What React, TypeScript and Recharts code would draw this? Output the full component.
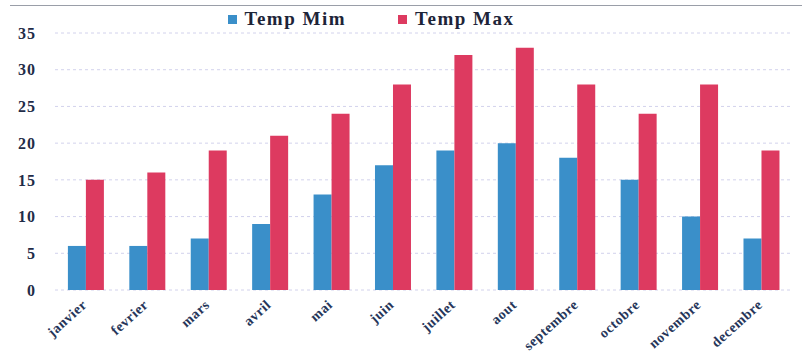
import { BarChart, Bar, XAxis, YAxis, CartesianGrid, Legend } from "recharts";

const months = [
  "janvier",
  "fevrier",
  "mars",
  "avril",
  "mai",
  "juin",
  "juillet",
  "aout",
  "septembre",
  "octobre",
  "novembre",
  "decembre",
];
const tempMin = [6, 6, 7, 9, 13, 17, 19, 20, 18, 15, 10, 7];
const tempMax = [15, 16, 19, 21, 24, 28, 32, 33, 28, 24, 28, 19];
const yTicks = [0, 5, 10, 15, 20, 25, 30, 35];

const data = months.map((m, i) => ({ month: m, min: tempMin[i], max: tempMax[i] }));

const serif = "'Liberation Serif', 'DejaVu Serif', serif";

function MonthTick({ x, y, payload }: any) {
  const tx = x + 2;
  const ty = y + 8;
  return (
    <text
      x={tx}
      y={ty}
      transform={`rotate(-42, ${tx}, ${ty})`}
      textAnchor="end"
      fill="#26365a"
      fontFamily={serif}
      fontWeight="bold"
      fontSize={14}
      letterSpacing={0.6}
    >
      {payload.value}
    </text>
  );
}

function TopLegend() {
  const item = (color: string, label: string) => (
    <span style={{ display: "inline-flex", alignItems: "center", margin: "0 26px" }}>
      <span style={{ width: 9, height: 9, background: color, marginRight: 8, display: "inline-block" }} />
      <span style={{ fontFamily: serif, fontWeight: "bold", fontSize: 19, letterSpacing: 1.5, color: "#1d2438" }}>
        {label}
      </span>
    </span>
  );
  return (
    <div style={{ height: 22, display: "flex", justifyContent: "center", alignItems: "center", paddingRight: 50 }}>
      {item("#3a8fc9", "Temp Mim")}
      {item("#dd3a60", "Temp Max")}
    </div>
  );
}

export default function App() {
  return (
    <div style={{ position: "absolute", left: 0, top: 0, width: 802, height: 358, background: "#fff" }}>
      <div style={{ position: "absolute", left: 10, right: 0, top: 5, borderTop: "1px solid #9a9ea8" }} />
      <BarChart
        width={802}
        height={358}
        data={data}
        margin={{ top: 11, right: 10, left: 0, bottom: 0 }}
        barCategoryGap="21%"
        barGap={0}
      >
        <Legend verticalAlign="top" content={<TopLegend />} wrapperStyle={{ top: 8 }} />
        <CartesianGrid vertical={false} stroke="#d2d2ec" strokeDasharray="3 3" />
        <XAxis
          dataKey="month"
          interval={0}
          height={68}
          axisLine={false}
          tickLine={false}
          tick={<MonthTick />}
        />
        <YAxis
          domain={[0, 35]}
          ticks={yTicks}
          width={55}
          axisLine={false}
          tickLine={false}
          tickSize={0}
          tickMargin={19}
          tick={{ fill: "#1f2c48", fontFamily: serif, fontWeight: "bold", fontSize: 16, letterSpacing: 1 }}
        />
        <Bar dataKey="min" name="Temp Mim" fill="#3a8fc9" isAnimationActive={false} />
        <Bar dataKey="max" name="Temp Max" fill="#dd3a60" isAnimationActive={false} />
      </BarChart>
    </div>
  );
}
